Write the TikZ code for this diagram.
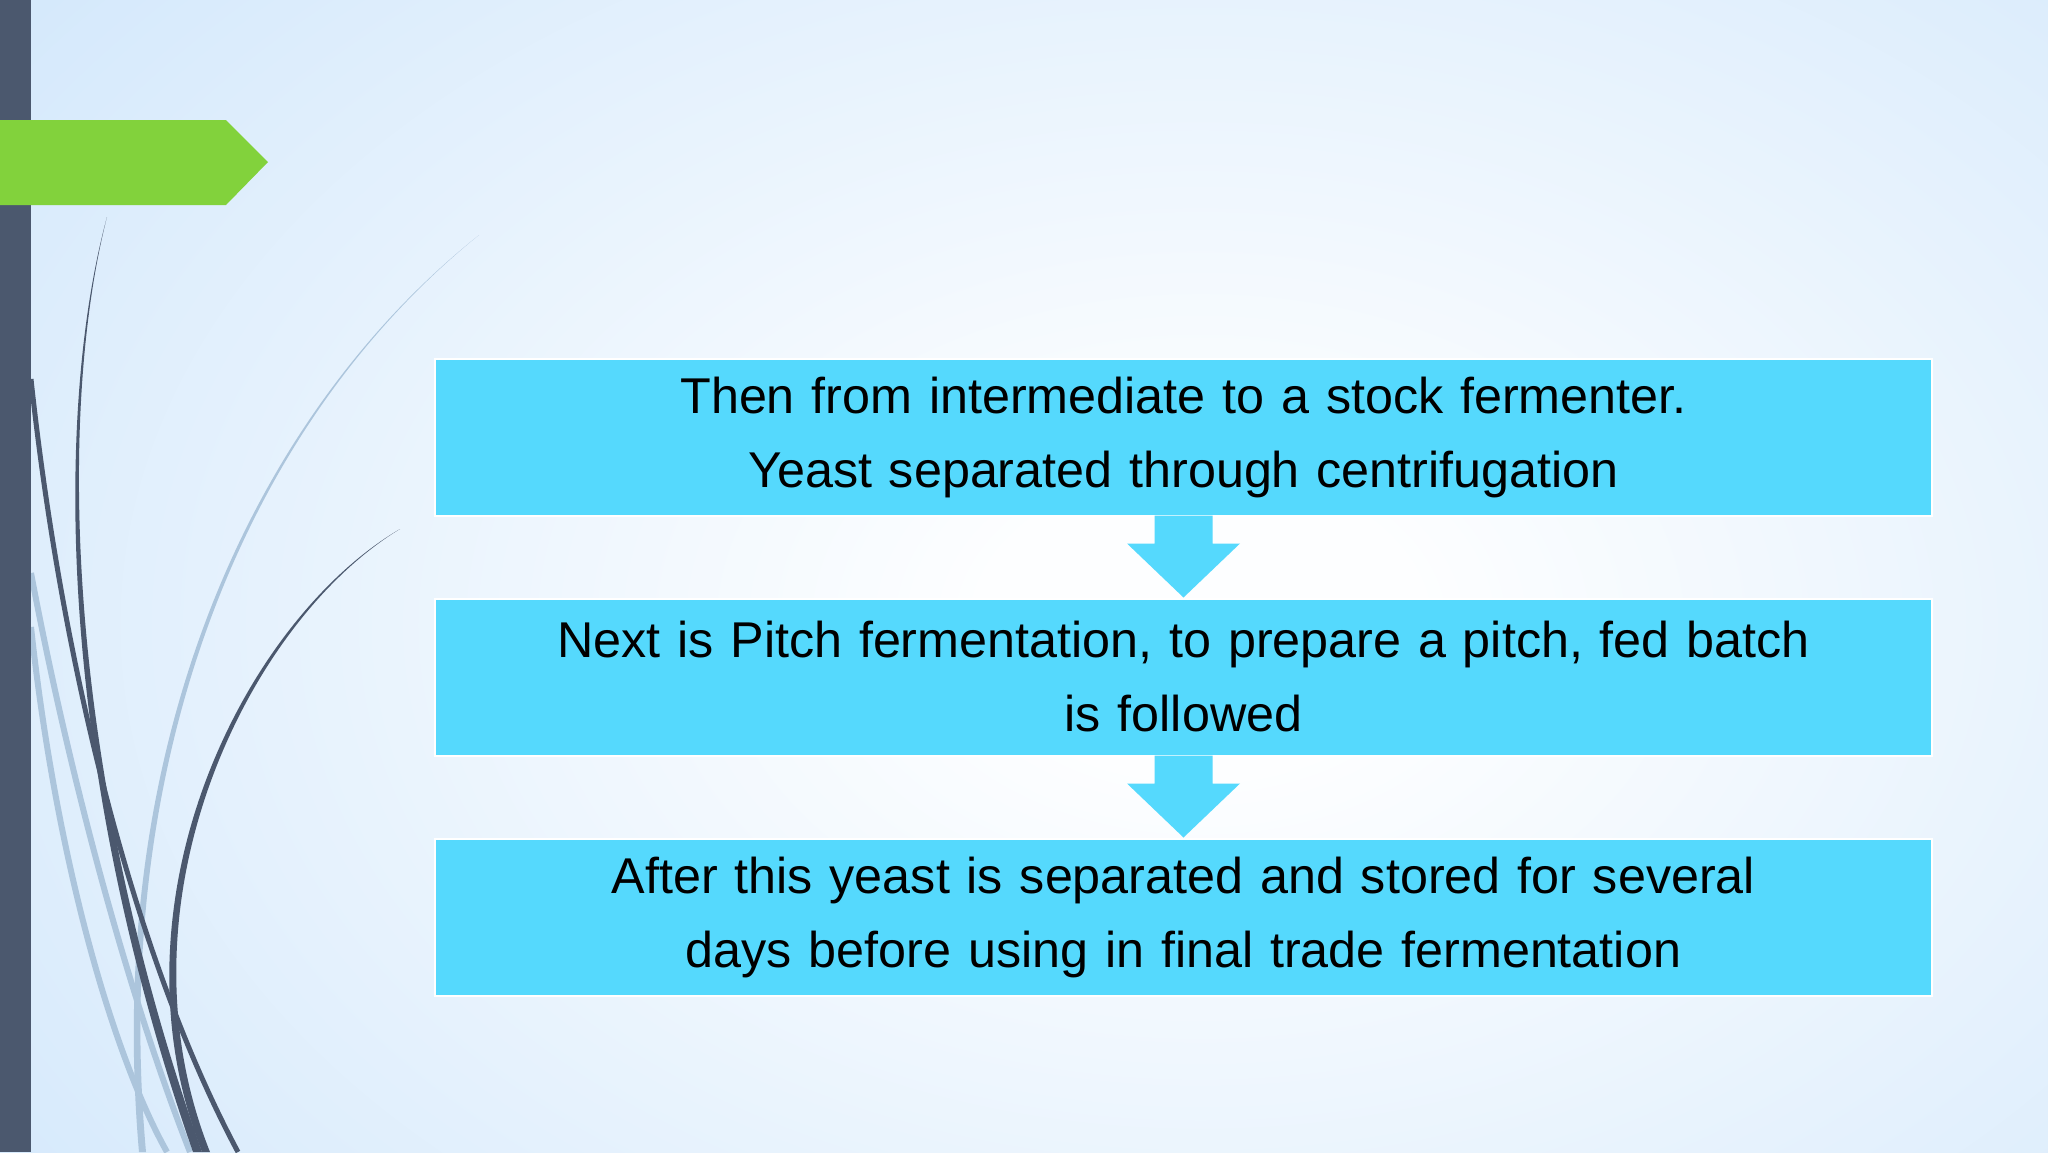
\documentclass[tikz,border=0pt]{standalone}
\usepackage{fontspec}
\setmainfont{Liberation Sans}
\usepackage{xcolor}
\usetikzlibrary{positioning}
\definecolor{slidebg}{RGB}{198,225,250}
\definecolor{slidecenter}{RGB}{253,254,255}
\definecolor{barslate}{RGB}{75,88,110}
\definecolor{leafgreen}{RGB}{130,210,60}
\definecolor{boxcyan}{RGB}{85,217,253}
\definecolor{swirllight}{RGB}{172,197,220}
\pgfdeclareradialshading{slideglow}{\pgfpoint{0bp}{0bp}}{color(0bp)=(slidecenter); color(4bp)=(slidecenter); color(36bp)=(slidebg); color(50bp)=(slidebg)}
\tikzset{
    stepbox/.style={rectangle, draw=white, line width=2pt, fill=boxcyan, minimum width=1497pt, minimum height=157pt, text width=1460pt, align=center, inner sep=0pt, font=\fontsize{50.3}{74}\selectfont},
    flowarrow/.style={fill=boxcyan},
    darkswirl/.style={fill=barslate},
    lightswirl/.style={draw=swirllight, line width=6pt}
}

\begin{document}
\begin{tikzpicture}[x=1pt, y=1pt, node distance=81pt]
    \useasboundingbox (0,0) rectangle (2048,-1152);
    % background
    \begin{scope}
        \clip (0,0) rectangle (2048,-1152);
        \shade[shading=slideglow] (-150,300) rectangle (2550,-1550);
    \end{scope}
    % swirls on the left
    \fill[swirllight] (479,-235) .. controls (250,-420) and (110,-750) .. (146,-1152) -- (139,-1152) .. controls (104,-750) and (248,-419) .. (479,-235) -- cycle;
    \draw[lightswirl] (31,-573) .. controls (70,-780) and (130,-1000) .. (190,-1152);
    \draw[lightswirl] (31,-627) .. controls (55,-850) and (110,-1050) .. (167,-1152);
    \fill[darkswirl] (107,-217) .. controls (60,-400) and (60,-750) .. (202,-1152) -- (193,-1152) .. controls (53,-750) and (57,-400) .. (107,-217) -- cycle;
    \draw[barslate, line width=5pt] (31,-379) .. controls (60,-650) and (130,-950) .. (238,-1152);
    \fill[darkswirl] (400,-529) .. controls (250,-620) and (110,-900) .. (210,-1152) -- (202,-1152) .. controls (103,-900) and (246,-619) .. (400,-529) -- cycle;
    % side bar and green tab
    \fill[barslate] (0,0) rectangle (31,-1152);
    \fill[leafgreen] (0,-120) -- (226,-120) -- (268,-162) -- (226,-205) -- (0,-205) -- cycle;

    \node (box1) [stepbox] at (1183.5,-437) {Then from intermediate to a stock fermenter.\\Yeast separated through centrifugation};
    \node (box2) [stepbox, below=of box1] {Next is Pitch fermentation, to prepare a pitch, fed batch\\is followed};
    \node (box3) [stepbox, below=of box2] {After this yeast is separated and stored for several\\days before using in final trade fermentation};

    \foreach \a/\b in {box1/box2, box2/box3}
        \fill[flowarrow] ([xshift=-29pt, yshift=1pt]\a.south) -- ([xshift=-29pt, yshift=-27pt]\a.south)
            -- ([xshift=-56.5pt, yshift=-27pt]\a.south) -- (\b.north)
            -- ([xshift=56.5pt, yshift=-27pt]\a.south) -- ([xshift=29pt, yshift=-27pt]\a.south)
            -- ([xshift=29pt, yshift=1pt]\a.south) -- cycle;
\end{tikzpicture}
\end{document}
